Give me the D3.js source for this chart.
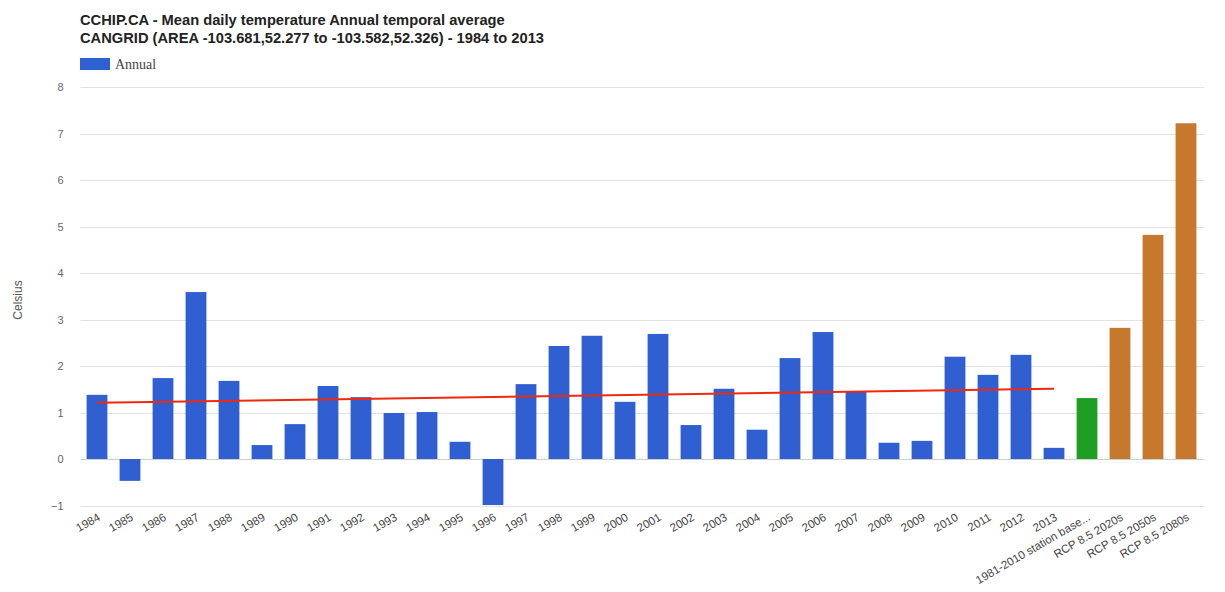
<!DOCTYPE html>
<html>
<head>
<meta charset="utf-8">
<script src="https://cdn.jsdelivr.net/npm/d3@7"></script>
<style>
  html, body { margin: 0; padding: 0; background: #fff; }
  svg { display: block; }
</style>
</head>
<body>
<svg id="chart" width="1225" height="592"></svg>
<script>
// Annual mean daily temperature (°C), 1984–2013
const years = ["1984","1985","1986","1987","1988","1989","1990","1991","1992","1993",
               "1994","1995","1996","1997","1998","1999","2000","2001","2002","2003",
               "2004","2005","2006","2007","2008","2009","2010","2011","2012","2013"];
const annualValues = [1.38, -0.47, 1.74, 3.59, 1.68, 0.30, 0.75, 1.57, 1.33, 0.99,
                      1.01, 0.37, -0.99, 1.61, 2.43, 2.65, 1.23, 2.69, 0.73, 1.51,
                      0.63, 2.17, 2.73, 1.46, 0.35, 0.39, 2.20, 1.81, 2.24, 0.24];

// Station baseline and climate projection scenarios
const baselineLabel = ["1981-2010 station base..."];
const baselineValue = [1.31];
const rcpLabels = ["RCP 8.5 2020s", "RCP 8.5 2050s", "RCP 8.5 2080s"];
const rcpValues = [2.82, 4.82, 7.22];

// Linear trend over the annual series (first and last year)
const trendYears = ["1984", "2013"];
const trendValues = [1.21, 1.51];

const yTicks = [-1, 0, 1, 2, 3, 4, 5, 6, 7, 8];

const titleLines = [
  "CCHIP.CA - Mean daily temperature Annual temporal average",
  "CANGRID (AREA -103.681,52.277 to -103.582,52.326) - 1984 to 2013"
];

const colors = { annual: "#2f5fd0", baseline: "#1f9e24", rcp: "#c6782c", trend: "#f0280c" };

const bars = [
  ...years.map((c, i) => ({ cat: c, v: annualValues[i], color: colors.annual })),
  ...baselineLabel.map((c, i) => ({ cat: c, v: baselineValue[i], color: colors.baseline })),
  ...rcpLabels.map((c, i) => ({ cat: c, v: rcpValues[i], color: colors.rcp }))
];

const svg = d3.select("#chart");
const plotLeft = 80.5, plotRight = 1202.5, plotTop = 87, zeroY = 459;

const x = d3.scaleBand()
  .domain(bars.map(d => d.cat))
  .range([plotLeft, plotRight])
  .paddingInner(0.37)
  .paddingOuter(0.185);

const y = d3.scaleLinear()
  .domain([0, 8])
  .range([zeroY, plotTop]);

// Gridlines
svg.append("g")
  .selectAll("line")
  .data(yTicks)
  .join("line")
  .attr("x1", plotLeft).attr("x2", plotRight + 2)
  .attr("y1", d => Math.round(y(d)) + 0.5)
  .attr("y2", d => Math.round(y(d)) + 0.5)
  .attr("stroke", d => d === 0 ? "#cfcfcf" : "#e2e2e2")
  .attr("stroke-width", 1);

// Y axis labels
const yAxis = d3.axisLeft(y).tickValues(yTicks).tickSize(0).tickPadding(0);
const yG = svg.append("g").attr("transform", `translate(${plotLeft - 17},0)`).call(yAxis);
yG.select(".domain").remove();
yG.selectAll("text")
  .attr("font-family", "Arial, 'Liberation Sans', sans-serif")
  .attr("font-size", 11)
  .attr("fill", "#666");

// Y axis title
svg.append("text")
  .attr("transform", "translate(22,300) rotate(-90)")
  .attr("text-anchor", "middle")
  .attr("font-family", "Arial, 'Liberation Sans', sans-serif")
  .attr("font-size", 12)
  .attr("fill", "#555")
  .text("Celsius");

// Bars
svg.append("g")
  .selectAll("rect")
  .data(bars)
  .join("rect")
  .attr("x", d => x(d.cat))
  .attr("width", x.bandwidth())
  .attr("y", d => y(Math.max(0, d.v)))
  .attr("height", d => Math.abs(y(d.v) - y(0)))
  .attr("fill", d => d.color);

// Trend line
svg.append("path")
  .datum(trendYears.map((c, i) => ({ cat: c, v: trendValues[i] })))
  .attr("fill", "none")
  .attr("stroke", colors.trend)
  .attr("stroke-width", 2)
  .attr("d", d3.line()
    .x(d => x(d.cat) + x.bandwidth() / 2)
    .y(d => y(d.v)));

// X axis labels, slanted
const xAxis = d3.axisBottom(x).tickSize(0).tickPadding(0);
const xG = svg.append("g").attr("transform", `translate(0,${zeroY + 57})`).call(xAxis);
xG.select(".domain").remove();
xG.selectAll(".tick text")
  .attr("font-family", "Arial, 'Liberation Sans', sans-serif")
  .attr("font-size", 11.5)
  .attr("fill", "#444")
  .attr("text-anchor", "end")
  .attr("dy", "0.35em")
  .attr("transform", "translate(2,0) rotate(-30)");

// Title
svg.append("g")
  .selectAll("text")
  .data(titleLines)
  .join("text")
  .attr("x", 80)
  .attr("y", (d, i) => 25 + i * 18)
  .attr("font-family", "Arial, 'Liberation Sans', sans-serif")
  .attr("font-size", 14.7)
  .attr("font-weight", "bold")
  .attr("fill", "#222")
  .text(d => d);

// Legend
const legend = svg.append("g").attr("transform", "translate(80,58)");
legend.append("rect").attr("width", 30).attr("height", 12).attr("fill", colors.annual);
legend.append("text")
  .attr("x", 35).attr("y", 10.5)
  .attr("font-family", "'Liberation Serif', 'Times New Roman', serif")
  .attr("font-size", 14)
  .attr("fill", "#444")
  .text("Annual");
</script>
</body>
</html>
